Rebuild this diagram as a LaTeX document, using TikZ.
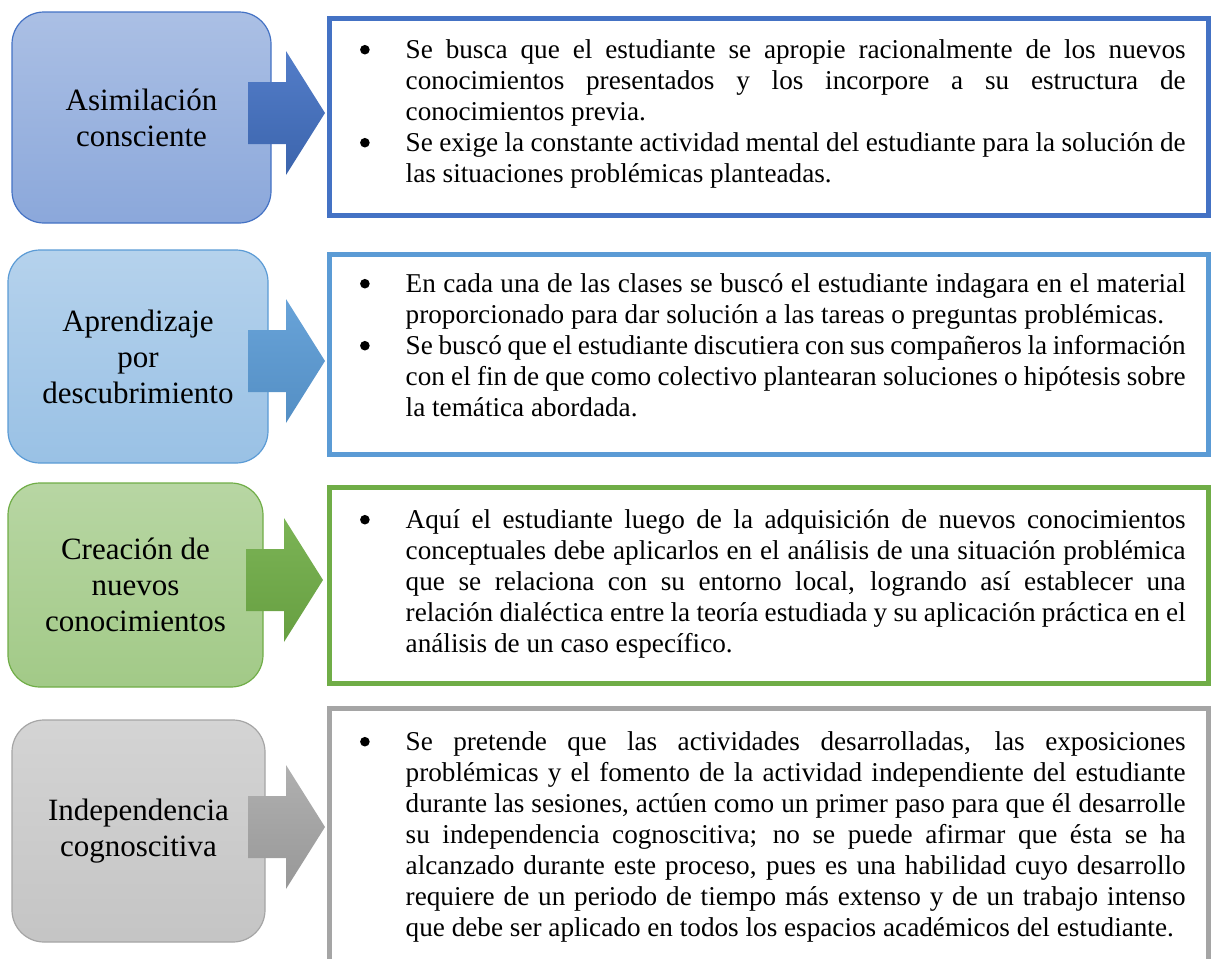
\documentclass[tikz,border=0pt]{standalone}
\usepackage{fontspec}
\setmainfont{Liberation Serif}
\usepackage{enumitem}
\setlist[itemize]{label={\tikz[baseline=0pt]\fill (0pt,9pt) circle[radius=4.8pt];},leftmargin=68pt,labelwidth=32pt,labelsep=36pt,align=right,nosep}
\usetikzlibrary{positioning}
\definecolor{azul}{HTML}{4472C4}
\definecolor{celeste}{HTML}{5B9BD5}
\definecolor{verde}{HTML}{70AD47}
\definecolor{gris}{HTML}{A5A5A5}
\newcommand{\flecha}[3]{\shade[top color=#2,bottom color=#3] (#1) -- ++(-39,-62) -- ++(0,31) -- ++(-38,0) -- ++(0,62) -- ++(38,0) -- ++(0,31) -- cycle;}
\begin{document}
\begin{tikzpicture}[x=1pt,y=-1pt,
    etiqueta/.style={rectangle,rounded corners=32pt,draw=#1,line width=1.2pt,align=center,font=\fontsize{31}{36}\selectfont},
    marco/.style={draw=#1,line width=5pt},
    texto/.style={text width=848pt,inner sep=0pt,align=justify,font=\fontsize{27.2}{31}\selectfont}]
    \useasboundingbox (0,0) rectangle (1211,959);
    \clip (0,0) rectangle (1211,959);
    % fila 1
    \node[etiqueta=azul,top color=azul!45!white,bottom color=azul!62!white,minimum width=259pt,minimum height=211pt] (L1) at (141.5,117.5) {Asimilación\\consciente};
    \coordinate (f1) at (325,113);
    \flecha{f1}{azul!92!white}{azul!88!black}
    \node[marco=azul,minimum width=879pt,minimum height=197pt] (R1) at (769,117) {};
    \node[texto,below right=11.5pt and 10.5pt of R1.north west] (T1) {\begin{itemize}
        \item \strut Se busca que el estudiante se apropie racionalmente de los nuevos\linebreak conocimientos presentados y los incorpore a su estructura de\linebreak conocimientos previa.
        \item Se exige la constante actividad mental del estudiante para la solución de\linebreak las situaciones problémicas planteadas.
    \end{itemize}};
    % fila 2
    \node[etiqueta=celeste,top color=celeste!45!white,bottom color=celeste!62!white,minimum width=260pt,minimum height=213pt] (L2) at (138,356.5) {Aprendizaje\\por\\descubrimiento};
    \coordinate (f2) at (325,361);
    \flecha{f2}{celeste!92!white}{celeste!92!black}
    \node[marco=celeste,minimum width=879pt,minimum height=200pt] (R2) at (769,354.5) {};
    \node[texto,below right=9.5pt and 10.5pt of R2.north west] (T2) {\begin{itemize}
        \item \strut En cada una de las clases se buscó el estudiante indagara en el material\linebreak proporcionado para dar solución a las tareas o preguntas problémicas.
        \item Se buscó que el estudiante discutiera con sus compañeros la información\linebreak con el fin de que como colectivo plantearan soluciones o hipótesis sobre\linebreak la temática abordada.
    \end{itemize}};
    % fila 3
    \node[etiqueta=verde,top color=verde!50!white,bottom color=verde!65!white,minimum width=255pt,minimum height=204pt] (L3) at (135.5,585) {Creación de\\nuevos\\conocimientos};
    \coordinate (f3) at (323,580);
    \flecha{f3}{verde!92!white}{verde!92!black}
    \node[marco=verde,minimum width=879pt,minimum height=196pt] (R3) at (769,585.5) {};
    \node[texto,below right=12.5pt and 10.5pt of R3.north west] (T3) {\begin{itemize}
        \item \strut Aquí el estudiante luego de la adquisición de nuevos conocimientos\linebreak conceptuales debe aplicarlos en el análisis de una situación problémica\linebreak que se relaciona con su entorno local, logrando así establecer una\linebreak relación dialéctica entre la teoría estudiada y su aplicación práctica en el\linebreak análisis de un caso específico.
    \end{itemize}};
    % fila 4
    \node[etiqueta=gris,top color=gris!48!white,bottom color=gris!65!white,minimum width=253pt,minimum height=222pt] (L4) at (138.5,831) {Independencia\\cognoscitiva};
    \coordinate (f4) at (325,827);
    \flecha{f4}{gris!88!white}{gris!92!black}
    \node[marco=gris,minimum width=879pt,minimum height=292pt] (R4) at (769,854.5) {};
    \node[texto,below right=13.5pt and 10.5pt of R4.north west] (T4) {\begin{itemize}
        \item \strut Se pretende que las actividades desarrolladas, las exposiciones\linebreak problémicas y el fomento de la actividad independiente del estudiante\linebreak durante las sesiones, actúen como un primer paso para que él desarrolle\linebreak su independencia cognoscitiva; no se puede afirmar que ésta se ha\linebreak alcanzado durante este proceso, pues es una habilidad cuyo desarrollo\linebreak requiere de un periodo de tiempo más extenso y de un trabajo intenso\linebreak que debe ser aplicado en todos los espacios académicos del estudiante.
    \end{itemize}};
\end{tikzpicture}
\end{document}
